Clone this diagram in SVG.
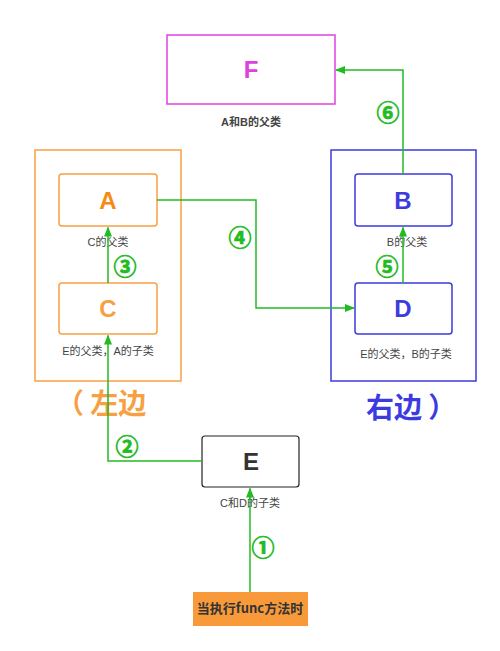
<svg xmlns="http://www.w3.org/2000/svg" width="500" height="651" viewBox="0 0 500 651">
<defs>
<marker id="ah" viewBox="0 0 10 10" refX="9" refY="5" markerWidth="10" markerHeight="10" markerUnits="userSpaceOnUse" orient="auto">
<path d="M0,1 L10,5 L0,9 z" fill="#22bb22"/>
</marker>
<style>
.lbl{font-family:"Liberation Sans","Noto Sans CJK SC",sans-serif;font-size:11px;fill:#444;text-anchor:middle}
.big{font-family:"Liberation Sans",Arial,sans-serif;font-size:24px;font-weight:bold;text-anchor:middle}
.num{font-family:"Noto Sans CJK SC","DejaVu Sans",sans-serif;font-size:23px;font-weight:bold;fill:#22bb22;stroke:#22bb22;stroke-width:0.7;text-anchor:middle}
.side{font-family:"Noto Sans CJK SC",sans-serif;font-size:28px;font-weight:bold}
.conn{fill:none;stroke:#22bb22;stroke-width:1.5}
.obox{fill:#fff;stroke:#f7a043;stroke-width:1.5}
.bbox{fill:#fff;stroke:#3b3be0;stroke-width:1.5}
</style>
</defs>
<rect width="500" height="651" fill="#fff"/>
<g id="left-group">
<rect x="35" y="150" width="146" height="231" fill="none" stroke="#f7a043" stroke-width="1.5"/>
<text class="side" x="56" y="414" fill="#f7a043">（ 左边</text>
</g>
<g id="right-group">
<rect x="331" y="150" width="145" height="231" fill="none" stroke="#3b3be0" stroke-width="1.5"/>
<text class="side" x="366" y="418" fill="#3b3be0">右边 ）</text>
</g>
<g id="F">
<rect x="167" y="35" width="168" height="69" fill="#fff" stroke="#e040e0" stroke-width="1.5"/>
<text class="big" x="251" y="78" fill="#e040e0">F</text>
<text class="lbl" x="251" y="126" font-weight="bold" fill="#333">A和B的父类</text>
</g>
<g id="A">
<rect class="obox" x="59" y="174" width="98" height="52" rx="3"/>
<text class="big" x="108" y="209" fill="#f58a14">A</text>
<text class="lbl" x="108" y="246">C的父类</text>
</g>
<g id="C">
<rect class="obox" x="59" y="283" width="98" height="51" rx="3"/>
<text class="big" x="108" y="317" fill="#f7a043">C</text>
<text class="lbl" x="108" y="355">E的父类，A的子类</text>
</g>
<g id="B">
<rect class="bbox" x="355" y="174" width="97" height="52" rx="3"/>
<text class="big" x="403" y="209" fill="#3b3be0">B</text>
<text class="lbl" x="407" y="246">B的父类</text>
</g>
<g id="D">
<rect class="bbox" x="355" y="283" width="97" height="51" rx="3"/>
<text class="big" x="403" y="317" fill="#3b3be0">D</text>
<text class="lbl" x="406" y="358">E的父类，B的子类</text>
</g>
<g id="E">
<rect x="202" y="436" width="97" height="51" rx="3" fill="#fff" stroke="#222" stroke-width="1.2"/>
<text class="big" x="251" y="470" fill="#333">E</text>
<text class="lbl" x="250" y="507">C和D的子类</text>
</g>
<g id="start">
<rect x="193" y="592" width="115" height="34" fill="#f99a3a"/>
<text x="250" y="613" font-family="'Noto Sans CJK SC',sans-serif" font-size="13" font-weight="bold" fill="#333" text-anchor="middle">当执行func方法时</text>
</g>
<g id="connectors">
<path class="conn" d="M250,592 L250,488.5" marker-end="url(#ah)"/>
<path class="conn" d="M202,461 L108,461 L108,335.5" marker-end="url(#ah)"/>
<path class="conn" d="M108,283 L108,227.5" marker-end="url(#ah)"/>
<path class="conn" d="M157,200 L256,200 L256,308 L354,308" marker-end="url(#ah)"/>
<path class="conn" d="M403,283 L403,227.5" marker-end="url(#ah)"/>
<path class="conn" d="M403,174 L403,70 L336,70" marker-end="url(#ah)"/>
<text class="num" x="263" y="556">①</text>
<text class="num" x="127" y="455">②</text>
<text class="num" x="125" y="275">③</text>
<text class="num" x="240" y="246">④</text>
<text class="num" x="387" y="275">⑤</text>
<text class="num" x="388" y="121">⑥</text>
</g>
</svg>
